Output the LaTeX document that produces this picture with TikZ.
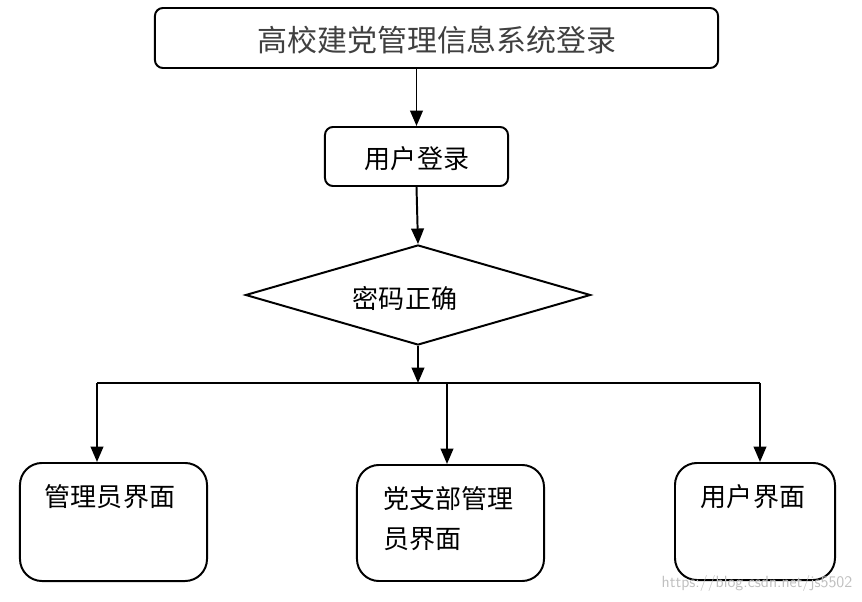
\documentclass[tikz,border=0pt]{standalone}
\usepackage{fontspec}
\newfontfamily\cjk{Noto Sans CJK SC}
\usepackage{tikz}
\usetikzlibrary{shapes.geometric,arrows.meta}

\tikzset{
  box/.style={draw, line width=1.4pt, rounded corners=0.2cm, inner sep=0pt},
  bigbox/.style={draw, line width=1.4pt, rounded corners=0.55cm, inner sep=0pt},
  label/.style={font=\cjk\fontsize{18.5}{30}\selectfont, inner sep=0pt},
  flow/.style={line width=1.4pt, -{Triangle[length=11pt,width=9pt]}},
}

\begin{document}
\begin{tikzpicture}[x=0.025cm, y=-0.025cm]
        \useasboundingbox (0,0) rectangle (862,602);

        % Top part
        \node[box, minimum width=14.075cm, minimum height=1.5cm] (title) at (436.5,38) {};
        \node[label, font=\cjk\fontsize{21.3}{24}\selectfont, text=black!75] (titletext) at (437,40) {高校建党管理信息系统登录};

        \node[box, minimum width=4.575cm, minimum height=1.475cm] (login) at (416.5,156.5) {};
        \node[label] (logintext) at (417,159) {用户登录};

        \node[draw, diamond, line width=1.4pt, inner sep=0pt, minimum width=8.625cm, minimum height=2.5cm] (check) at (418,295) {};
        \node[label] (checktext) at (405,298) {密码正确};

        % Bottom boxes
        \node[bigbox, minimum width=4.675cm, minimum height=2.95cm] (admin) at (113.5,522) {};
        \node[label] (admintext) at (110,497) {管理员界面};

        \node[bigbox, minimum width=4.675cm, minimum height=2.9cm] (party) at (450.5,523) {};
        \node[label, align=left, anchor=north west, font=\cjk\fontsize{18.5}{28.45}\selectfont] (partytext) at (383,486) {党支部管理\\员界面};

        \node[bigbox, minimum width=4cm, minimum height=2.925cm] (user) at (755,521.5) {};
        \node[label] (usertext) at (753,497) {用户界面};

        % Branch line
        \coordinate (join) at (418,383);
        \coordinate (left) at (97,383);
        \coordinate (mid) at (447,383);
        \coordinate (right) at (760,383);

        % Connectors
        \draw[flow] (title.south -| login) -- (login.north);
        \draw[flow] (login.south) -- (check.north);
        \draw[flow] (check.south) -- (join);
        \draw[line width=1.4pt] (left) -- (right);
        \draw[flow] (left) -- (left |- admin.north);
        \draw[flow] (mid) -- (mid |- party.north);
        \draw[flow] (right) -- (right |- user.north);

        % Watermark
        \node[font=\sffamily\fontsize{11.5}{13}\selectfont, text=black!25, inner sep=0pt] (mark) at (757,583) {https://blog.csdn.net/js5502};
\end{tikzpicture}
\end{document}
